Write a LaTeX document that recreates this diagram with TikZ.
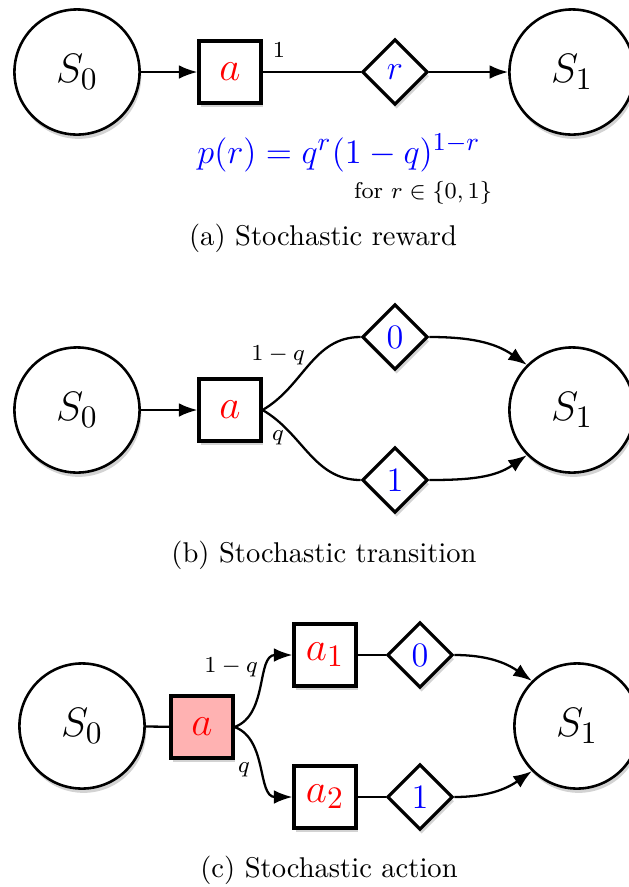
\documentclass[tikz,border=0pt]{standalone}
\usetikzlibrary{arrows.meta,shapes.geometric,shadows}
\begin{document}
\begin{tikzpicture}[x=0.35pt,y=0.35pt,
  lift/.style={drop shadow={shadow xshift=0.6pt,shadow yshift=-1.5pt,opacity=0.35}},
  state/.style={circle,draw,line width=0.9pt,fill=white,minimum size=43.8pt,inner sep=0pt,lift,font=\fontsize{15.5}{18}\selectfont},
  act/.style={rectangle,draw,line width=1.1pt,fill=white,minimum size=21.7pt,inner sep=0pt,lift,text=red,font=\fontsize{15}{18}\selectfont},
  rew/.style={diamond,draw,line width=1.1pt,fill=white,minimum size=23pt,inner sep=0pt,aspect=1,lift,text=blue,font=\fontsize{13}{15}\selectfont},
  prob/.style={font=\footnotesize},
  link/.style={line width=0.8pt},
  arr/.style={link,-{Latex[length=6.5pt,width=4.8pt]}}]
\useasboundingbox (0,0) rectangle (629,-887);
\clip (0,0) rectangle (629,-887);
\node[state] (s0a) at (77,-72) {$S_0$};
\node[act] (aa) at (230,-72) {$a$};
\node[rew] (ra) at (395,-72) {$r$};
\node[state] (s1a) at (572,-72) {$S_1$};
\draw[arr] (s0a) -- (aa);
\draw[link] (aa) -- (ra);
\draw[arr] (ra) -- (s1a);
\node[prob] (onea) at (279,-50) {$1$};
\node[blue,font=\fontsize{12.5}{15}\selectfont] (pra) at (339,-153) {$p(r) = q^r(1-q)^{1-r}$};
\node[font=\footnotesize] (fora) at (423,-193) {for $r\in\{0,1\}$};
\node (capa) at (323,-238) {(a) Stochastic reward};
\node[state] (s0b) at (77,-410) {$S_0$};
\node[act] (ab) at (230,-410) {$a$};
\node[rew] (zb) at (395,-337) {$0$};
\node[rew] (ob) at (395,-480) {$1$};
\node[state] (s1b) at (572,-410) {$S_1$};
\draw[arr] (s0b) -- (ab);
\draw[link] (ab.east) to[out=30,in=180] (zb.west);
\draw[link] (ab.east) to[out=-30,in=180] (ob.west);
\draw[arr] (zb.east) to[out=0,in=145] (s1b.135);
\draw[arr] (ob.east) to[out=0,in=215] (s1b.225);
\node[prob] (pzb) at (278,-355) {$1-q$};
\node[prob] (pob) at (278,-438) {$q$};
\node (capb) at (324,-555) {(b) Stochastic transition};
\node[state] (s0c) at (82,-726) {$S_0$};
\node[act,fill=red!30] (ac) at (202,-727) {$a$};
\node[act] (a1c) at (325,-655) {$a_1$};
\node[act] (a2c) at (325,-797) {$a_2$};
\node[rew] (zc) at (420,-655) {$0$};
\node[rew] (oc) at (420,-797) {$1$};
\node[state] (s1c) at (577,-726) {$S_1$};
\draw[link] (s0c) -- (ac);
\draw[arr] (ac.east) to[out=20,in=180] (a1c.west);
\draw[arr] (ac.east) to[out=-20,in=180] (a2c.west);
\draw[link] (a1c) -- (zc);
\draw[link] (a2c) -- (oc);
\draw[arr] (zc.east) to[out=0,in=145] (s1c.135);
\draw[arr] (oc.east) to[out=0,in=215] (s1c.225);
\node[prob] (pac) at (231,-667) {$1-q$};
\node[prob] (qac) at (244,-770) {$q$};
\node (capc) at (329,-870) {(c) Stochastic action};
\end{tikzpicture}
\end{document}
